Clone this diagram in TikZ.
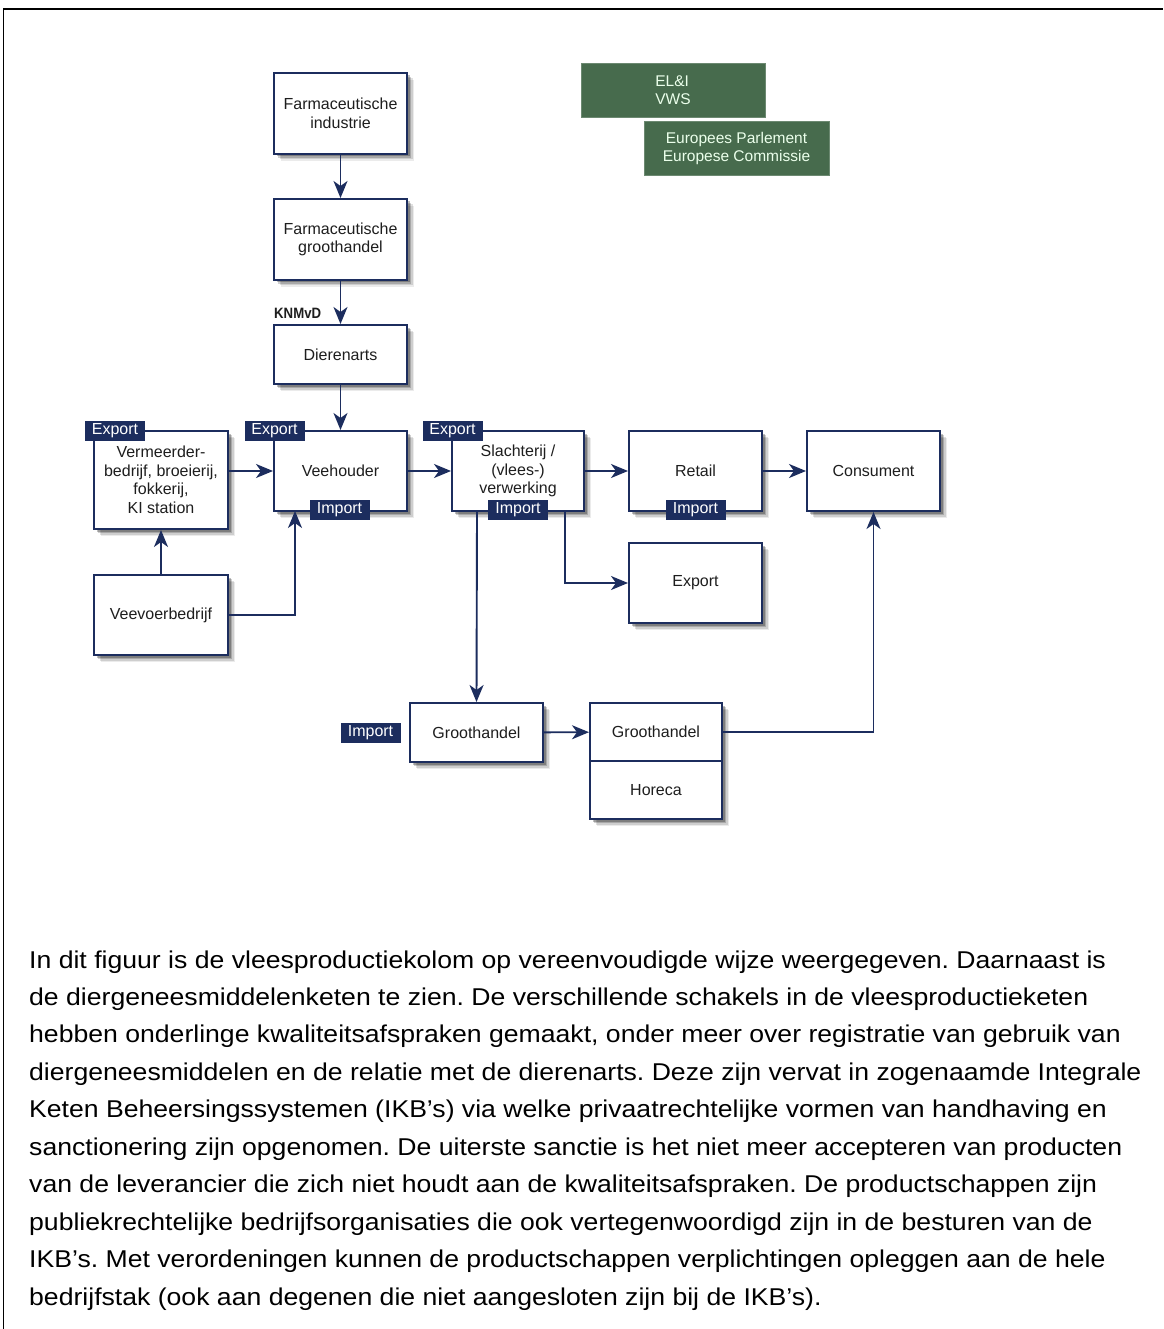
\documentclass[tikz,border=0pt]{standalone}
\usepackage{fontspec}
\setmainfont{Liberation Sans}
\newfontfamily\capfont[FakeStretch=1.095]{Liberation Sans}
\newfontfamily\narrowfont[FakeStretch=0.88]{Liberation Sans}
\usetikzlibrary{arrows.meta,shadows}
\definecolor{navy}{HTML}{1C2D5E}
\definecolor{govgreen}{HTML}{476B4D}
\definecolor{txt}{HTML}{1E1E1E}
\frenchspacing
\tikzset{
  softshadow/.style={
    general shadow={shadow xshift=7pt, shadow yshift=-7pt, fill=black, opacity=.08},
    general shadow={shadow xshift=5.5pt, shadow yshift=-5.5pt, fill=black, opacity=.12},
    general shadow={shadow xshift=4pt, shadow yshift=-4pt, fill=black, opacity=.18},
    general shadow={shadow xshift=2.5pt, shadow yshift=-2.5pt, fill=black, opacity=.25}},
  box/.style={draw=navy, line width=2pt, fill=white, text=txt, align=center,
    font=\fontsize{16}{18.5}\selectfont, inner sep=2pt, softshadow},
  tag/.style={fill=navy, text=white, inner sep=0pt, minimum width=60pt, minimum height=20pt,
    font=\fontsize{16}{18}\selectfont},
  gov/.style={fill=govgreen, draw=govgreen!80!white, line width=.8pt, text=white!92!green, font=\fontsize{15.5}{18}\selectfont, inner sep=0pt},
  flow/.style={draw=navy, line width=1.9pt, -{Stealth[length=17pt,width=14pt,inset=5pt]}},
  captext/.style={anchor=base west, inner sep=0pt, text=black, font=\capfont\fontsize{24.3}{28}\selectfont},
}
\begin{document}
\begin{tikzpicture}[x=1pt,y=-1pt]
\useasboundingbox (0,0) rectangle (1163,1329);
\fill[white] (0,0) rectangle (1163,1329);
\draw[black, line width=1.6pt] (3.5,1329) -- (3.5,9) -- (1163,9);

% green boxes
\node[gov, minimum width=184pt, minimum height=54pt, align=left] (eli) at (673,90) {EL\&I\\VWS};
\node[gov, minimum width=185pt, minimum height=54pt, align=center] (eu) at (736.5,148) {Europees Parlement\\Europese Commissie};

% boxes
\node[box, minimum width=133pt, minimum height=81pt] (fi) at (340.5,113.5) {Farmaceutische\\industrie};
\node[box, minimum width=133pt, minimum height=81pt] (fg) at (340.5,239.5) {Farmaceutische\\groothandel};
\node[box, minimum width=133pt, minimum height=59pt] (da) at (340.5,354.5) {Dierenarts};
\node[box, minimum width=134pt, minimum height=98pt] (vm) at (161,480) {Vermeerder-\\bedrijf, broeierij,\\fokkerij,\\KI station};
\node[box, minimum width=133pt, minimum height=80pt] (vh) at (340.5,471) {Veehouder};
\node[box, minimum width=132pt, minimum height=80pt] (sl) at (518,471) {Slachterij /\\(vlees-)\\verwerking};
\node[box, minimum width=133pt, minimum height=80pt] (rt) at (695.5,471) {Retail};
\node[box, minimum width=133pt, minimum height=80pt] (cs) at (873.5,471) {Consument};
\node[box, minimum width=133pt, minimum height=80pt] (ex) at (695.5,583) {Export};
\node[box, minimum width=134pt, minimum height=80pt] (vv) at (161,615) {Veevoerbedrijf};
\node[box, minimum width=133pt, minimum height=59pt] (gh) at (476.5,732.5) {Groothandel};
\node[box, minimum width=132pt, minimum height=58pt] (gh2) at (656,732) {Groothandel};
\node[box, minimum width=132pt, minimum height=58pt] (hc) at (656,790) {Horeca};

% tags
\node[tag] (t1) at (115,431) {Export};
\node[tag] (t2) at (274.5,431) {Export};
\node[tag] (t3) at (452.5,431) {Export};
\node[tag] (t4) at (339.5,510) {Import};
\node[tag] (t5) at (518,510) {Import};
\node[tag] (t6) at (695.5,510) {Import};
\node[tag] (t7) at (370.5,732.5) {Import};

\node[anchor=base west, inner sep=0pt, text=txt, font=\narrowfont\fontsize{15}{17}\bfseries\selectfont] (kn) at (274,318) {KNMvD};

% connectors
\draw[flow] (fi) -- (fg);
\draw[flow] (fg) -- (da);
\draw[flow] (da) -- (vh);
\draw[flow] (vm.east |- vh) -- (vh);
\draw[flow] (vv) -- (vm);
\draw[flow] (vv.east) -| (295,511);
\draw[flow] (vh) -- (sl);
\draw[flow] (sl) -- (rt);
\draw[flow] (rt) -- (cs);
\draw[flow] (565,511) |- (ex.west);
\draw[flow] (477,511) -- (gh.north);
\draw[flow] (gh) -- (gh2);
\draw[flow] (gh2.east) -| (cs.south);

% caption
\node[captext] (c1) at (29,968) {In dit figuur is de vleesproductiekolom op vereenvoudigde wijze weergegeven. Daarnaast is};
\node[captext] (c2) at (29,1005.4) {de diergeneesmiddelenketen te zien. De verschillende schakels in de vleesproductieketen};
\node[captext] (c3) at (29,1042.9) {hebben onderlinge kwaliteitsafspraken gemaakt, onder meer over registratie van gebruik van};
\node[captext] (c4) at (29,1080.3) {diergeneesmiddelen en de relatie met de dierenarts. Deze zijn vervat in zogenaamde Integrale};
\node[captext] (c5) at (29,1117.8) {Keten Beheersingssystemen (IKB’s) via welke privaatrechtelijke vormen van handhaving en};
\node[captext] (c6) at (29,1155.2) {sanctionering zijn opgenomen. De uiterste sanctie is het niet meer accepteren van producten};
\node[captext] (c7) at (29,1192.6) {van de leverancier die zich niet houdt aan de kwaliteitsafspraken. De productschappen zijn};
\node[captext] (c8) at (29,1230.1) {publiekrechtelijke bedrijfsorganisaties die ook vertegenwoordigd zijn in de besturen van de};
\node[captext] (c9) at (29,1267.5) {IKB’s. Met verordeningen kunnen de productschappen verplichtingen opleggen aan de hele};
\node[captext] (c10) at (29,1305) {bedrijfstak (ook aan degenen die niet aangesloten zijn bij de IKB’s).};
\end{tikzpicture}
\end{document}
